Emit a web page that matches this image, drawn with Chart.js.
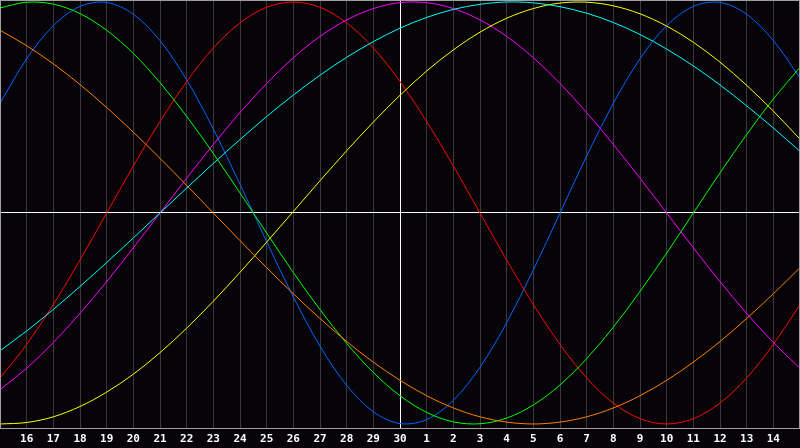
<!DOCTYPE html>
<html>
<head>
<meta charset="utf-8">
<script src="https://cdn.jsdelivr.net/npm/chart.js@4/dist/chart.umd.min.js"></script>
<style>
  html, body { margin: 0; padding: 0; background: #060409; }
  #chart { display: block; }
</style>
</head>
<body>
<canvas id="chart" width="800" height="448"></canvas>
<script>
'use strict';

// day labels along the bottom (first and last are the edges, not printed)
var dayLabels = ['15', '16', '17', '18', '19', '20', '21', '22', '23', '24', '25', '26', '27', '28', '29', '30',
  '1', '2', '3', '4', '5', '6', '7', '8', '9', '10', '11', '12', '13', '14', '15'];

// values, one per day, -1..1
var physical = [0.520, 0.731, 0.888, 0.979, 0.998, 0.942, 0.817, 0.631, 0.398, 0.136, -0.136, -0.398, -0.631, -0.817, -0.942, -0.998,
  -0.979, -0.888, -0.731, -0.520, -0.270, 0.000, 0.270, 0.520, 0.731, 0.888, 0.979, 0.998, 0.942, 0.817, 0.640];
var emotional = [-0.782, -0.623, -0.434, -0.223, 0.000, 0.223, 0.434, 0.623, 0.782, 0.901, 0.975, 1.000, 0.975, 0.901, 0.782, 0.623,
  0.434, 0.223, 0.000, -0.223, -0.434, -0.623, -0.782, -0.901, -0.975, -1.000, -0.975, -0.901, -0.782, -0.623, -0.434];
var intellectual = [0.972, 0.999, 0.990, 0.945, 0.866, 0.756, 0.618, 0.458, 0.282, 0.095, -0.095, -0.282, -0.458, -0.618, -0.756, -0.866,
  -0.945, -0.990, -0.999, -0.972, -0.910, -0.815, -0.690, -0.541, -0.372, -0.190, 0.000, 0.190, 0.372, 0.541, 0.690];
var intuitive = [-0.837, -0.736, -0.614, -0.476, -0.325, -0.165, 0.000, 0.165, 0.325, 0.476, 0.614, 0.736, 0.837, 0.915, 0.969, 0.997,
  0.997, 0.969, 0.915, 0.837, 0.736, 0.614, 0.476, 0.325, 0.165, 0.000, -0.165, -0.325, -0.476, -0.614, -0.736];
var aesthetic = [-1.000, -0.993, -0.966, -0.917, -0.849, -0.764, -0.662, -0.546, -0.418, -0.281, -0.138, 0.007, 0.153, 0.295, 0.431, 0.558,
  0.673, 0.773, 0.857, 0.923, 0.969, 0.995, 0.999, 0.982, 0.944, 0.886, 0.809, 0.715, 0.605, 0.483, 0.350];
var awareness = [0.866, 0.793, 0.707, 0.609, 0.500, 0.383, 0.259, 0.131, 0.000, -0.131, -0.259, -0.383, -0.500, -0.609, -0.707, -0.793,
  -0.866, -0.924, -0.966, -0.991, -1.000, -0.991, -0.966, -0.924, -0.866, -0.793, -0.707, -0.609, -0.500, -0.383, -0.259];
var spiritual = [-0.653, -0.559, -0.457, -0.348, -0.235, -0.118, 0.000, 0.118, 0.235, 0.348, 0.457, 0.559, 0.653, 0.738, 0.812, 0.876,
  0.927, 0.965, 0.989, 1.000, 0.996, 0.978, 0.947, 0.903, 0.846, 0.777, 0.697, 0.607, 0.508, 0.403, 0.292];

var seriesNames = ['Spiritual', 'Awareness', 'Aesthetic', 'Intuitive', 'Intellectual', 'Emotional', 'Physical'];
var seriesValues = [spiritual, awareness, aesthetic, intuitive, intellectual, emotional, physical];
var seriesColors = ['#00ffff', '#ff8000', '#ffff00', '#ff00ff', '#00ff00', '#ff0000', '#0066ff'];

// black background + frame
var framePlugin = {
  id: 'frame',
  beforeDraw: function (chart) {
    var ctx = chart.ctx;
    ctx.save();
    ctx.fillStyle = '#060409';
    ctx.fillRect(0, 0, chart.width, chart.height);
    ctx.restore();
  },
  afterDraw: function (chart) {
    var a = chart.chartArea;
    var ctx = chart.ctx;
    ctx.save();
    ctx.strokeStyle = '#a0a0a0';
    ctx.lineWidth = 1;
    ctx.strokeRect(a.left + 0.5, a.top + 0.5, a.right - a.left - 1, a.bottom - a.top);
    ctx.restore();
  }
};

var datasets = [];
for (var i = 0; i < seriesValues.length; i++) {
  datasets.push({
    label: seriesNames[i],
    data: seriesValues[i],
    borderColor: seriesColors[i],
    borderWidth: 1,
    pointRadius: 0,
    tension: 0.33,
    fill: false
  });
}

var ctx = document.getElementById('chart').getContext('2d');
new Chart(ctx, {
  type: 'line',
  data: { labels: dayLabels, datasets: datasets },
  options: {
    responsive: false,
    devicePixelRatio: 1,
    animation: false,
    layout: { padding: 0 },
    plugins: {
      legend: { display: false },
      tooltip: { enabled: false }
    },
    scales: {
      x: {
        offset: false,
        grid: {
          drawTicks: false,
          color: function (c) { return c.index === 15 ? '#ffffff' : '#3a3a3a'; }
        },
        border: { color: '#a0a0a0' },
        ticks: {
          autoSkip: false,
          maxRotation: 0,
          padding: 5,
          color: '#ffffff',
          font: { family: 'DejaVu Sans Mono', size: 11, weight: 'bold' },
          callback: function (v, idx) {
            if (idx === 0 || idx === dayLabels.length - 1) return '';
            return dayLabels[idx];
          }
        },
        afterFit: function (s) {
          s.height = 20;
          s.paddingLeft = 0;
          s.paddingRight = 0;
        }
      },
      y: {
        min: -1.019,
        max: 1.0095,
        grid: { drawTicks: false, color: '#ffffff' },
        border: { display: false },
        ticks: { display: false },
        afterBuildTicks: function (s) { s.ticks = [{ value: 0 }]; },
        afterFit: function (s) {
          s.width = 0;
          s.paddingTop = 0;
          s.paddingBottom = 0;
        }
      }
    }
  },
  plugins: [framePlugin]
});
</script>
</body>
</html>
